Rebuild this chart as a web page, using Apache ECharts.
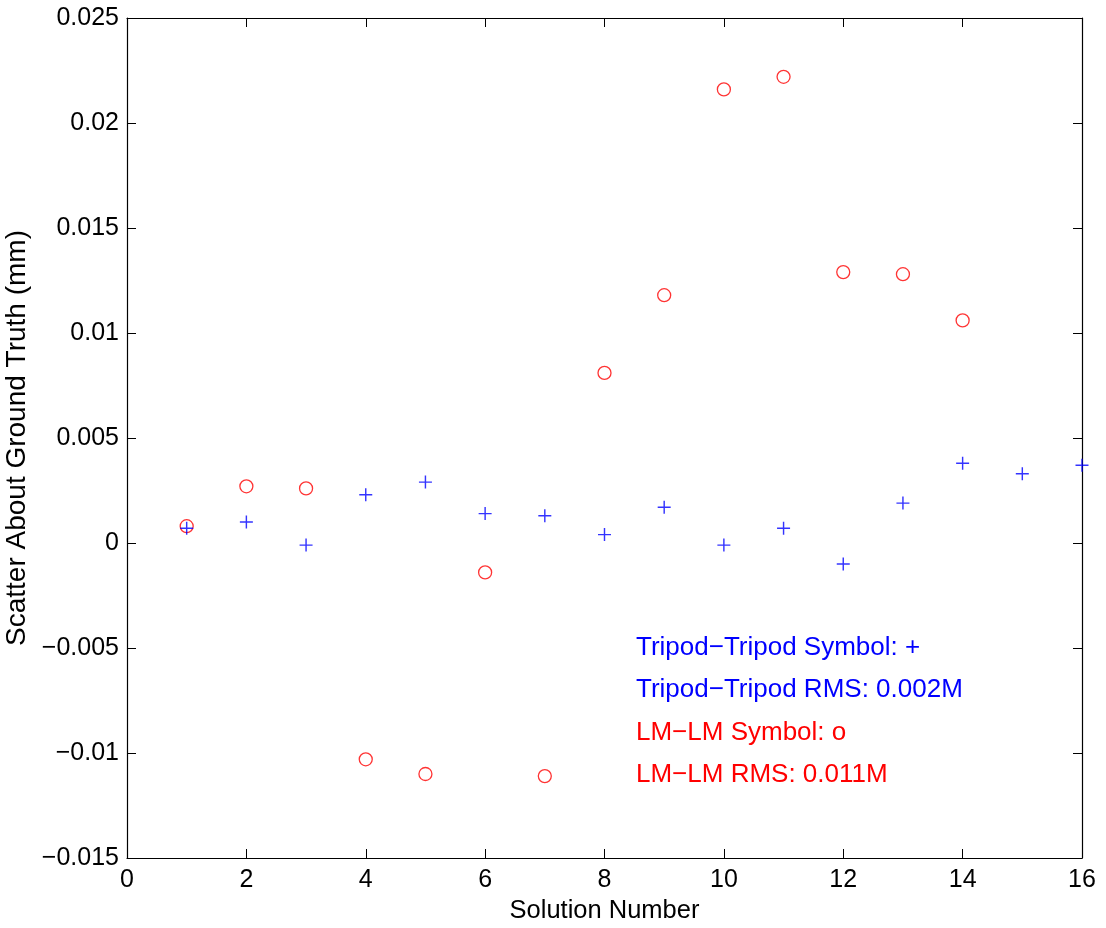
<!DOCTYPE html>
<html>
<head>
<meta charset="utf-8">
<script src="https://cdn.jsdelivr.net/npm/echarts@6/dist/echarts.min.js"></script>
<style>
html,body{margin:0;padding:0;background:#fff;}
#chart{width:1106px;height:928px;}
</style>
</head>
<body>
<div id="chart"></div>
<script>
const solutionNumbers = [1,2,3,4,5,6,7,8,9,10,11,12,13,14,15,16];
const tripodValues = [0.0007,0.0010,-0.0001,0.0023,0.0029,0.0014,0.0013,0.0004,0.0017,-0.0001,0.0007,-0.0010,0.0019,0.0038,0.0033,0.0037];
const lmSolutions = [1,2,3,4,5,6,7,8,9,10,11,12,13,14];
const lmValues = [0.0008,0.0027,0.0026,-0.0103,-0.0110,-0.0014,-0.0111,0.0081,0.0118,0.0216,0.0222,0.0129,0.0128,0.0106];
const xTickLabels = ['0','2','4','6','8','10','12','14','16'];
const yTickLabels = ['\u22120.015','\u22120.01','\u22120.005','0','0.005','0.01','0.015','0.02','0.025'];
const annotationLines = [
  {text:'Tripod\u2212Tripod Symbol: +', color:'#0000ff'},
  {text:'Tripod\u2212Tripod RMS: 0.002M', color:'#0000ff'},
  {text:'LM\u2212LM Symbol: o', color:'#ff0000'},
  {text:'LM\u2212LM RMS: 0.011M', color:'#ff0000'}
];
const xTitle = 'Solution Number';
const yTitle = 'Scatter About Ground Truth (mm)';

const FONT = '"Liberation Sans", Arial, Helvetica, sans-serif';
const X_MIN = 0, X_MAX = 16, X_INT = 2;
const Y_MIN = -0.015, Y_MAX = 0.025, Y_INT = 0.005;

const chart = echarts.init(document.getElementById('chart'), null, {renderer:'canvas'});

const axisLine = {show:true, onZero:false, lineStyle:{color:'#000', width:1.2}};
const tick = {show:true, inside:true, length:9, lineStyle:{color:'#000', width:1}};

const plusPath = 'path://M-1,-0.11H1V0.11H-1Z M-0.11,-1H0.11V1H-0.11Z';

const option = {
  backgroundColor:'#fff',
  animation:false,
  grid:{left:127, right:24, top:18, bottom:70, containLabel:false, outerBoundsMode:'none'},
  xAxis:[{
    type:'value', min:X_MIN, max:X_MAX, interval:X_INT,
    position:'bottom',
    name:xTitle, nameLocation:'middle', nameGap:40,
    nameTextStyle:{color:'#000', fontSize:25.5, fontFamily:FONT},
    axisLine:axisLine, axisTick:tick, splitLine:{show:false},
    axisLabel:{color:'#000', fontSize:25, fontFamily:FONT, margin:10,
      formatter:function(v){return xTickLabels[Math.round((v - X_MIN)/X_INT)];}}
  },{
    type:'value', min:X_MIN, max:X_MAX, interval:X_INT,
    position:'top',
    axisLine:axisLine, axisTick:tick, splitLine:{show:false},
    axisLabel:{show:false}
  }],
  yAxis:[{
    type:'value', min:Y_MIN, max:Y_MAX, interval:Y_INT,
    position:'left',
    name:yTitle, nameLocation:'middle', nameGap:87,
    nameTextStyle:{color:'#000', fontSize:28, fontFamily:FONT},
    axisLine:axisLine, axisTick:tick, splitLine:{show:false},
    axisLabel:{color:'#000', fontSize:25, fontFamily:FONT, margin:8,
      formatter:function(v){return yTickLabels[Math.round((v - Y_MIN)/Y_INT)];}}
  },{
    type:'value', min:Y_MIN, max:Y_MAX, interval:Y_INT,
    position:'right',
    axisLine:axisLine, axisTick:tick, splitLine:{show:false},
    axisLabel:{show:false}
  }],
  series:[{
    name:'LM-LM', type:'scatter',
    data: lmSolutions.map((x,i)=>[x, lmValues[i]]),
    symbol:'circle', symbolSize:13,
    itemStyle:{color:'rgba(0,0,0,0)', borderColor:'#ff0000', borderWidth:1.3},
    clip:false
  },{
    name:'Tripod-Tripod', type:'scatter',
    data: solutionNumbers.map((x,i)=>[x, tripodValues[i]]),
    symbol:plusPath, symbolSize:13,
    itemStyle:{color:'#0000ff'},
    clip:false
  }],
  graphic: annotationLines.map((l,i)=>({
    type:'text', x:636, y:648 + i*42.3,
    style:{text:l.text, fill:l.color, font:'26px ' + FONT, verticalAlign:'middle', align:'left'}
  }))
};
chart.setOption(option);
</script>
</body>
</html>
